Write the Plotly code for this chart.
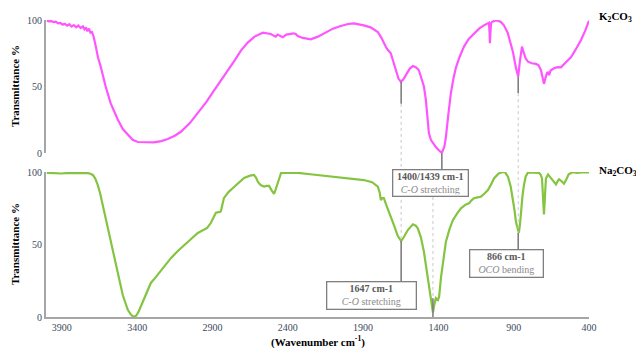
import plotly.graph_objects as go

# ---------------- data ----------------
k2co3_wn = [4000, 3985, 3970, 3955, 3940, 3925, 3910, 3895, 3880, 3865, 3850, 3835, 3820, 3805,
            3790, 3775, 3760, 3750, 3740, 3730, 3720, 3710, 3700, 3690, 3676, 3660, 3642, 3625,
            3609, 3576, 3528, 3495, 3462, 3430, 3395, 3340, 3289, 3240, 3197, 3150, 3110, 3050,
            2997, 2940, 2890, 2840, 2797, 2750, 2711, 2666, 2620, 2566, 2513, 2490, 2480, 2467,
            2450, 2433, 2410, 2393, 2360, 2347, 2334, 2300, 2247, 2200, 2160, 2100, 2048, 2000,
            1961, 1930, 1895, 1850, 1802, 1780, 1762, 1745, 1735, 1716, 1700, 1682, 1665, 1649,
            1632, 1616, 1590, 1569, 1550, 1530, 1515, 1496, 1483, 1470, 1463, 1450, 1430, 1417,
            1400, 1377, 1360, 1350, 1335, 1317, 1300, 1284, 1260, 1230, 1200, 1164, 1130, 1098,
            1075, 1064, 1060, 1058, 1055, 1050, 1045, 1025, 1005, 985, 965, 940, 918, 905, 885,
            870, 860, 852, 845, 835, 820, 805, 780, 752, 735, 719, 710, 699, 690, 680, 672, 665,
            655, 632, 610, 586, 555, 520, 490, 453, 425, 400]
k2co3_t = [99.5, 99, 99.2, 98.5, 98.8, 97.5, 97.8, 96.5, 97.2, 95.8, 96.8, 95, 96.2, 94.5,
           95.8, 94, 95.2, 93, 94.5, 91.5, 93.5, 90.5, 91, 88, 81, 72, 65, 57,
           50, 37.5, 25, 18, 13.5, 10, 8.3, 8, 8, 9, 10.5, 13, 16, 22.5,
           30, 38.5, 47, 55, 62, 70, 77, 83, 87.5, 90.5, 89.5, 88.5, 87.5, 89,
           88, 87, 89, 89.5, 90, 89.5, 88, 86.5, 85.5, 87.5, 90, 93.5, 95.5, 97,
           97.5, 97, 96, 94.5, 91, 87, 82.5, 79, 77.5, 75, 69, 62, 56, 53.6,
           55.5, 58.6, 63.5, 65.4, 64.5, 62.4, 57.5, 50, 40, 25, 15, 10, 6.5, 4.5,
           2.5, 0, 5, 12, 28, 45, 56, 64, 72, 80, 85.5, 90, 93.5, 96,
           97.5, 98, 90, 82.5, 90, 97.5, 98.5, 99.5, 99.5, 98.5, 96, 90.5, 82.5, 76, 64,
           57.5, 68, 77.5, 80, 76, 71, 68.7, 67.5, 67, 66, 62.4, 57, 52, 56, 60, 61, 58.5,
           62, 63.7, 64.5, 64.4, 68, 72, 77.5, 85, 92, 99.5]

na2co3_wn = [4000, 3950, 3900, 3850, 3800, 3760, 3727, 3710, 3694, 3678, 3661, 3645, 3628, 3595,
             3562, 3528, 3495, 3462, 3440, 3422, 3405, 3389, 3372, 3355, 3330, 3309, 3280, 3256,
             3215, 3176, 3130, 3090, 3040, 2997, 2957, 2935, 2910, 2890, 2877, 2850, 2844, 2824,
             2795, 2764, 2740, 2711, 2690, 2650, 2624, 2610, 2597, 2580, 2557, 2540, 2524, 2505,
             2491, 2480, 2464, 2455, 2444, 2400, 2334, 2250, 2180, 2114, 2000, 1895, 1840, 1802,
             1790, 1782, 1772, 1762, 1745, 1728, 1710, 1695, 1670, 1647, 1630, 1603, 1569, 1550,
             1536, 1516, 1496, 1483, 1465, 1450, 1440, 1436, 1428, 1417, 1403, 1395, 1383, 1365,
             1350, 1325, 1303, 1275, 1250, 1220, 1197, 1180, 1164, 1140, 1118, 1095, 1071, 1050,
             1031, 1000, 971, 955, 938, 920, 905, 895, 885, 866, 858, 852, 842, 832, 820, 805,
             770, 732, 720, 712, 705, 699, 693, 686, 672, 655, 639, 619, 610, 599, 585, 566,
             550, 535, 506, 480, 450, 406, 400]
na2co3_t = [99.5, 99.3, 99, 99.5, 99.5, 99.5, 99.3, 98.8, 98, 95.5, 91, 85, 77, 61,
            45, 29, 15, 5, 1.5, 0, 1, 4, 8, 13, 19, 23.5, 27, 30,
            35.5, 40.6, 45.5, 49.6, 54, 58, 60, 61.5, 65, 69, 72, 72.5, 73, 82,
            86, 89, 91.5, 94.5, 96, 97.5, 98, 96, 93, 91, 90, 90.5, 90.5, 87,
            85, 88, 93, 97, 99.5, 99.5, 99.5, 98.5, 97.8, 97, 95.5, 94.5, 93, 90,
            86, 80.7, 82, 82, 77, 72.6, 68, 63.4, 56, 52.4, 55, 60, 64, 63,
            61, 55, 45, 36, 25, 13, 5, 3, 8, 13, 11.7, 14, 27, 40,
            52, 61, 67, 71.5, 75, 77.5, 78.4, 80.5, 82, 82.5, 83, 85, 87.6, 91.5,
            95.6, 99, 100, 99.5, 96.8, 90, 82, 74, 65.7, 58, 64, 72.6, 83, 91, 97, 99.8,
            99.7, 99.5, 98, 95.6, 82, 70.8, 82, 95.6, 98.4, 96, 94.5, 91.5, 93.5, 95, 94, 92,
            95, 98.5, 100, 99.5, 99.8, 99.7, 99.8]

x_ticks = [3900, 3400, 2900, 2400, 1900, 1400, 900, 400]
y_ticks = [0, 50, 100]

# peak markers: (wavenumber, transmittance on K2CO3, transmittance on Na2CO3)
peak_1647 = (1647, 53.6, 52.4)
peak_1400_top = (1377, 0.0)
peak_1439_bot = (1436, 3.0)
peak_866 = (870, 57.5, 58.0)

box_texts = {
    "1647": "<b>1647 cm-1</b><br><span style='color:#8a8a8a'><i>C-O</i> stretching</span>",
    "1400": "<b>1400/1439 cm-1</b><br><span style='color:#8a8a8a'><i>C-O</i> stretching</span>",
    "866": "<b>866 cm-1</b><br><span style='color:#8a8a8a'><i>OCO</i> bending</span>",
}

# ---------------- layout helpers ----------------
TOP_DOM = [0.552, 1.0]
BOT_DOM = [0.0, 0.488]
PINK = "#ff55ff"
GREEN = "#84c441"
SOLID = "#7f7f7f"
DOT = "#c8c8c8"
FONT = "Liberation Serif"


def ptop(t):
    return TOP_DOM[0] + t / 100 * (TOP_DOM[1] - TOP_DOM[0])


def pbot(t):
    return BOT_DOM[0] + t / 100 * (BOT_DOM[1] - BOT_DOM[0])


fig = go.Figure()
fig.add_trace(go.Scatter(x=k2co3_wn, y=k2co3_t, mode="lines", line=dict(color=PINK, width=2.2),
                         xaxis="x", yaxis="y2", showlegend=False, hoverinfo="skip"))
fig.add_trace(go.Scatter(x=na2co3_wn, y=na2co3_t, mode="lines", line=dict(color=GREEN, width=2.2),
                         xaxis="x", yaxis="y", showlegend=False, hoverinfo="skip"))

shapes = []


def vline(x, y0, y1, solid=True):
    shapes.append(dict(type="line", xref="x", yref="paper", x0=x, x1=x, y0=y0, y1=y1,
                       line=dict(color=SOLID if solid else DOT, width=1.6 if solid else 1,
                                 dash="solid" if solid else "dot"), layer="above"))


# 1647 line
box1647_top = pbot(24.1)
vline(peak_1647[0], ptop(peak_1647[1]), ptop(37), True)
vline(peak_1647[0], ptop(37), pbot(peak_1647[2]), False)
vline(peak_1647[0], pbot(peak_1647[2]), box1647_top, True)
# 1400/1439
box1400_y = 0.4495
box1400_h = 27 / 297
vline(peak_1400_top[0], ptop(peak_1400_top[1]), box1400_y + box1400_h / 2, True)
vline(peak_1439_bot[0], box1400_y - box1400_h / 2, pbot(13), False)
vline(peak_1439_bot[0], pbot(13), pbot(0), True)
# 866
box866_top = pbot(46.9)
vline(peak_866[0], ptop(peak_866[1]), ptop(45), True)
vline(peak_866[0], ptop(45), pbot(peak_866[2]), False)
vline(peak_866[0], pbot(peak_866[2]), box866_top, True)

annotations = []


def box(text, x, yc, w, h):
    annotations.append(dict(text=text, x=x, y=yc, xref="x", yref="paper", showarrow=False,
                            xanchor="center", yanchor="middle", width=w - 4, height=h - 4,
                            bgcolor="white", bordercolor="#7f7f7f", borderwidth=1.3, borderpad=1,
                            font=dict(family=FONT, size=10, color="#595959"), align="center"))


box(box_texts["1647"], 1842, pbot(14.5), 90, 28)
box(box_texts["1400"], 1455, box1400_y, 76, 27)
box(box_texts["866"], 945, pbot(37.2), 74, 28)

label_font = dict(family=FONT, size=11, color="black")
annotations.append(dict(text="<b>K<sub>2</sub>CO<sub>3</sub></b>", x=1.015, y=1.01, xref="paper",
                        yref="paper", showarrow=False, xanchor="left", yanchor="middle",
                        font=label_font))
annotations.append(dict(text="<b>Na<sub>2</sub>CO<sub>3</sub></b>", x=1.015, y=BOT_DOM[1] + 0.005,
                        xref="paper", yref="paper", showarrow=False, xanchor="left",
                        yanchor="middle", font=label_font))
annotations.append(dict(text="<b>(Wavenumber cm<sup>-1</sup>)</b>", x=0.5, y=-0.082, xref="paper",
                        yref="paper", showarrow=False, xanchor="center", yanchor="middle",
                        font=label_font))
for yc in [(TOP_DOM[0] + TOP_DOM[1]) / 2, (BOT_DOM[0] + BOT_DOM[1]) / 2]:
    annotations.append(dict(text="<b>Transmittance %</b>", x=-0.058, y=yc, xref="paper",
                            yref="paper", showarrow=False, textangle=-90, xanchor="center",
                            yanchor="middle", font=label_font))

tick_font = dict(family=FONT, size=10, color="#3d4a5c")
yaxis_common = dict(range=[0, 100], tickvals=y_ticks, showgrid=False, zeroline=False,
                    showline=True, linecolor="#a6a6a6", linewidth=2, ticks="",
                    tickfont=tick_font, fixedrange=True)

fig.update_layout(
    width=636, height=348,
    margin=dict(l=46, r=47, t=20, b=31),
    paper_bgcolor="white", plot_bgcolor="white",
    xaxis=dict(range=[4005, 400], tickvals=x_ticks, showgrid=False, zeroline=False,
               showline=True, linecolor="#a6a6a6", linewidth=2, ticks="", anchor="y",
               tickfont=tick_font),
    yaxis=dict(domain=BOT_DOM, anchor="x", **yaxis_common),
    yaxis2=dict(domain=TOP_DOM, anchor="x", **yaxis_common),
    shapes=shapes,
    annotations=annotations,
    showlegend=False,
)

fig.write_html("out.html")
